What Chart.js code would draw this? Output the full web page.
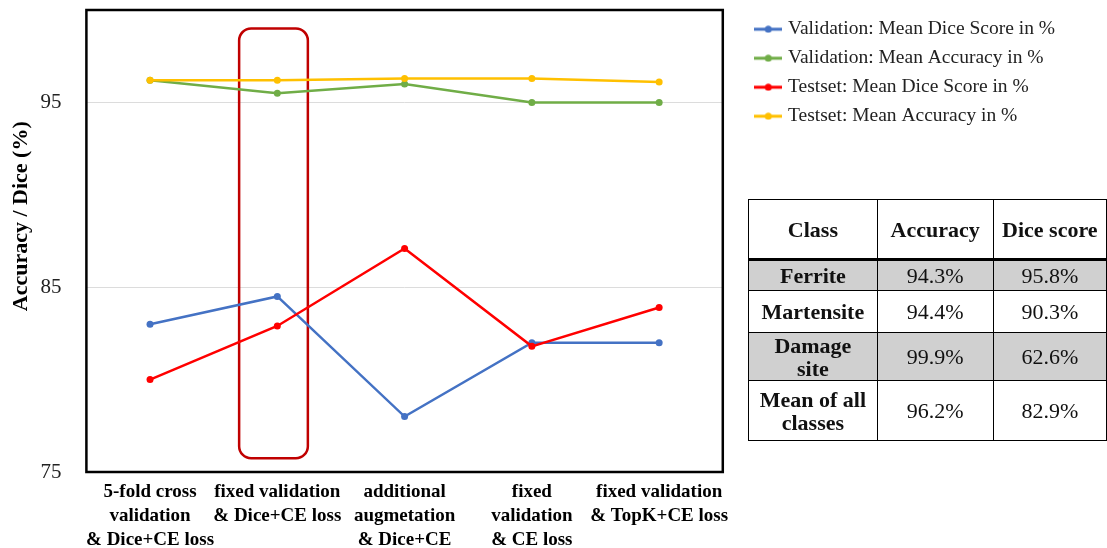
<!DOCTYPE html>
<html>
<head>
<meta charset="utf-8">
<script src="https://cdn.jsdelivr.net/npm/chart.js@4"></script>
<style>
  body { margin: 0; background: #fff; overflow: hidden; }
  #wrap { position: relative; width: 1107px; height: 548px; }
  #results {
    position: absolute; left: 748px; top: 199px;
    border-collapse: collapse; table-layout: fixed;
    font-family: "Liberation Serif", "Times New Roman", serif;
    font-size: 22px; color: #111;
  }
  #results td, #results th { border: 1px solid #000; text-align: center; padding: 0; line-height: 23px; }
  #results th { font-weight: bold; border-bottom: 3px solid #000; }
  #results td.name { font-weight: bold; }
  #results tr.shade td { background: #d0d0d0; }
</style>
</head>
<body>
<div id="wrap">
  <canvas id="scoreChart"></canvas>
  <table id="results">
    <colgroup><col style="width:130px"><col style="width:117px"><col style="width:116px"></colgroup>
    <thead><tr style="height:60px"><th>Class</th><th>Accuracy</th><th>Dice score</th></tr></thead>
    <tbody></tbody>
  </table>
</div>
<script>
// training setups on the x axis (multi-line labels)
const stages = [
  ['5-fold cross', 'validation', '& Dice+CE loss'],
  ['fixed validation', '& Dice+CE loss'],
  ['additional', 'augmetation', '& Dice+CE'],
  ['fixed', 'validation', '& CE loss'],
  ['fixed validation', '& TopK+CE loss']
];
const valDice  = [83.0, 84.5, 78.0, 82.0, 82.0];
const valAcc   = [96.2, 95.5, 96.0, 95.0, 95.0];
const testDice = [80.0, 82.9, 87.1, 81.8, 83.9];
const testAcc  = [96.2, 96.2, 96.3, 96.3, 96.1];
const yTicks = [75, 85, 95];

// per-class results of the chosen setup
const classNames = [['Ferrite'], ['Martensite'], ['Damage', 'site'], ['Mean of all', 'classes']];
const classAcc  = ['94.3%', '94.4%', '99.9%', '96.2%'];
const classDice = ['95.8%', '90.3%', '62.6%', '82.9%'];

// box around the chosen setup (category index / y value)
const highlight = { from: 0.70, to: 1.24, top: 99.0, bottom: 75.75 };

const rowHeights = [31, 42, 48, 60];
const tbody = document.querySelector('#results tbody');
classNames.forEach((name, i) => {
  const tr = document.createElement('tr');
  tr.style.height = rowHeights[i] + 'px';
  if (i % 2 === 0) tr.className = 'shade';
  tr.innerHTML = '<td class="name">' + name.join('<br>') + '</td><td>' + classAcc[i] + '</td><td>' + classDice[i] + '</td>';
  tbody.appendChild(tr);
});

Chart.defaults.font.family = '"Liberation Serif", "Times New Roman", serif';

// line-with-dot marker for the legend
function legendMark(color) {
  const c = document.createElement('canvas');
  c.width = 28; c.height = 8;
  const g = c.getContext('2d');
  g.strokeStyle = color; g.lineWidth = 3;
  g.beginPath(); g.moveTo(0, 4); g.lineTo(28, 4); g.stroke();
  g.fillStyle = color;
  g.beginPath(); g.arc(14, 4, 3.5, 0, Math.PI * 2); g.fill();
  return c;
}

const decorations = {
  id: 'decorations',
  beforeDatasetsDraw(chart) {
    const { ctx, scales: { x, y } } = chart;
    const l = x.getPixelForValue(highlight.from), r = x.getPixelForValue(highlight.to);
    const t = y.getPixelForValue(highlight.top), b = y.getPixelForValue(highlight.bottom);
    ctx.save();
    ctx.strokeStyle = '#c00000';
    ctx.lineWidth = 2.5;
    ctx.beginPath();
    ctx.roundRect(l, t, r - l, b - t, 12);
    ctx.stroke();
    ctx.restore();
  },
  afterDraw(chart) {
    const { ctx, chartArea: a } = chart;
    ctx.save();
    ctx.strokeStyle = '#000';
    ctx.lineWidth = 2.5;
    ctx.strokeRect(a.left, a.top, a.right - a.left, a.bottom - a.top);
    ctx.restore();
  }
};

function series(label, data, color, order) {
  return {
    label, data, order,
    borderColor: color, backgroundColor: color,
    borderWidth: 2.5,
    pointRadius: 3.5, pointHoverRadius: 3.5,
    pointBackgroundColor: color, pointBorderColor: color, pointBorderWidth: 0,
    tension: 0
  };
}

new Chart('scoreChart', {
  type: 'line',
  data: {
    labels: stages,
    datasets: [
      series('Validation: Mean Dice Score in %', valDice, '#4472c4', 3),
      series('Validation: Mean Accuracy in %', valAcc, '#70ad47', 2),
      series('Testset: Mean Dice Score in %', testDice, '#ff0000', 1),
      series('Testset: Mean Accuracy in %', testAcc, '#ffc000', 0)
    ]
  },
  options: {
    responsive: true,
    maintainAspectRatio: false,
    animation: false,
    layout: { padding: { top: 10, right: 42, bottom: -4, left: 0 } },
    scales: {
      x: {
        offset: true,
        grid: { display: false },
        border: { display: false },
        ticks: {
          color: '#000', padding: 0,
          font: { size: 19, weight: 'bold', lineHeight: '24px' },
          maxRotation: 0, minRotation: 0, autoSkip: false
        }
      },
      y: {
        min: 75, max: 100,
        afterBuildTicks: s => { s.ticks = yTicks.map(v => ({ value: v })); },
        grid: { color: '#dcdcdc', lineWidth: 1, drawTicks: true, tickLength: 25, tickColor: 'rgba(0,0,0,0)' },
        border: { display: false },
        ticks: { color: '#222', padding: 0, font: { size: 21, lineHeight: 0.95 } },
        title: {
          display: true,
          text: '         Accuracy / Dice (%)',
          color: '#000',
          font: { size: 22, weight: 'bold' },
          padding: { top: 8, bottom: 6 }
        }
      },
      // empty spacer between plot and legend
      y2: {
        position: 'right',
        grid: { display: false },
        border: { display: false },
        ticks: { display: false },
        afterFit: s => { s.width = 26; }
      }
    },
    plugins: {
      tooltip: { enabled: false },
      legend: {
        position: 'right',
        align: 'start',
        maxWidth: 420,
        labels: {
          color: '#222',
          font: { size: 19.5 },
          padding: 9.5,
          usePointStyle: true,
          pointStyleWidth: 20,
          generateLabels: chart => chart.data.datasets.map((ds, i) => ({
            text: ds.label,
            pointStyle: legendMark(ds.borderColor),
            fillStyle: ds.borderColor,
            strokeStyle: ds.borderColor,
            lineWidth: 0,
            hidden: false,
            fontColor: '#222',
            datasetIndex: i
          }))
        }
      }
    }
  },
  plugins: [decorations]
});
</script>
</body>
</html>
